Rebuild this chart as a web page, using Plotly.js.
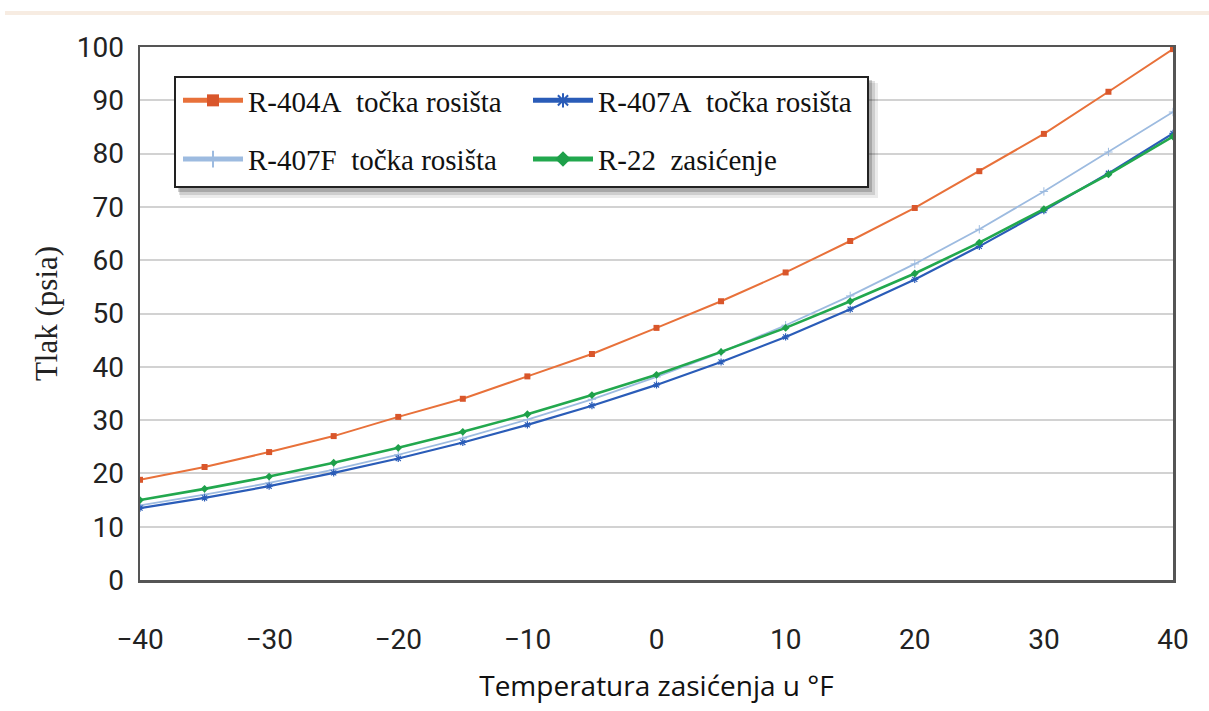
<!DOCTYPE html>
<html>
<head>
<meta charset="utf-8">
<script src="https://cdn.plot.ly/plotly-3.0.1.min.js"></script>
<style>
  html, body { margin: 0; padding: 0; background: #ffffff; }
  #chart { width: 1209px; height: 711px; }
</style>
</head>
<body>
<div id="chart"></div>
<script>
// Temperature (°F)
const temperatures = [-40, -35, -30, -25, -20, -15, -10, -5, 0, 5, 10, 15, 20, 25, 30, 35, 40];
// Pressure (psia)
const r404a = [18.8, 21.2, 24.0, 27.0, 30.6, 34.0, 38.2, 42.4, 47.3, 52.3, 57.7, 63.6, 69.8, 76.7, 83.7, 91.6, 99.6];
const r407a = [13.5, 15.4, 17.6, 20.1, 22.8, 25.8, 29.1, 32.7, 36.6, 40.9, 45.6, 50.8, 56.4, 62.6, 69.3, 76.3, 83.8];
const r407f = [14.0, 16.0, 18.2, 20.7, 23.5, 26.6, 30.1, 33.9, 38.1, 42.7, 47.8, 53.3, 59.3, 65.8, 72.9, 80.3, 87.8];
const r22   = [15.0, 17.1, 19.4, 22.0, 24.8, 27.8, 31.1, 34.7, 38.5, 42.8, 47.3, 52.3, 57.5, 63.3, 69.6, 76.1, 83.2];

const names = {
  r404a: 'R-404A\u00a0\u00a0točka rosišta',
  r407a: 'R-407A\u00a0\u00a0točka rosišta',
  r407f: 'R-407F\u00a0\u00a0točka rosišta',
  r22:   'R-22\u00a0\u00a0zasićenje'
};
const xTickVals = [-40, -30, -20, -10, 0, 10, 20, 30, 40];
const yTickVals = [0, 10, 20, 30, 40, 50, 60, 70, 80, 90, 100];

const traces = [
  { x: temperatures, y: r404a, name: names.r404a, mode: 'lines+markers', legend: 'legend', legendgroup: 'a',
    line: { color: '#e8713a', width: 2 }, marker: { symbol: 'square', size: 6, color: '#d9562b' } },
  { x: temperatures, y: r407f, name: names.r407f, mode: 'lines+markers', legend: 'legend', legendgroup: 'b',
    line: { color: '#9dbbe0', width: 1.8 }, marker: { symbol: 'cross-thin', size: 6, color: '#9dbbe0', line: { color: '#9dbbe0', width: 1 } } },
  { x: temperatures, y: r407a, name: names.r407a, mode: 'lines+markers', legend: 'legend2', legendgroup: 'c',
    line: { color: '#2a5cb8', width: 2.2 }, marker: { symbol: 'asterisk-open', size: 6, color: '#2a5cb8', line: { color: '#2a5cb8', width: 1.2 } } },
  { x: temperatures, y: r22, name: names.r22, mode: 'lines+markers', legend: 'legend2', legendgroup: 'd',
    line: { color: '#22a84e', width: 2.6 }, marker: { symbol: 'diamond', size: 6, color: '#1ea04a' } }
];

const plotL = 140, plotR = 1173, plotT = 47, plotB = 580;
const pw = plotR - plotL, ph = plotB - plotT;
const px = v => (v - plotL) / pw;
const py = v => (plotB - v) / ph;

const legendFont = { family: 'Liberation Serif, serif', size: 29, color: '#111111' };
const tickFont = { family: 'Roboto, sans-serif', size: 28, color: '#222222' };

const shapes = [
  // thin beige band at the very top of the page
  { type: 'rect', xref: 'paper', yref: 'paper', x0: px(5), x1: px(1209), y0: py(11), y1: py(15),
    fillcolor: '#f7ece2', line: { width: 0 }, layer: 'below' },
  // legend shadow (soft)
  { type: 'rect', xref: 'paper', yref: 'paper', x0: px(180), x1: px(878), y0: py(83), y1: py(198),
    fillcolor: 'rgba(0,0,0,0.08)', line: { width: 0 }, layer: 'above' },
  { type: 'rect', xref: 'paper', yref: 'paper', x0: px(179), x1: px(875), y0: py(81), y1: py(195),
    fillcolor: 'rgba(0,0,0,0.12)', line: { width: 0 }, layer: 'above' },
  { type: 'rect', xref: 'paper', yref: 'paper', x0: px(178), x1: px(872), y0: py(80), y1: py(192),
    fillcolor: 'rgba(0,0,0,0.18)', line: { width: 0 }, layer: 'above' },
  // legend box
  { type: 'rect', xref: 'paper', yref: 'paper', x0: px(175), x1: px(868), y0: py(77), y1: py(187),
    fillcolor: '#ffffff', line: { color: '#222222', width: 2 }, layer: 'above' }
];

const layout = {
  width: 1209, height: 711,
  margin: { l: plotL, r: 1209 - plotR, t: plotT, b: 711 - plotB },
  paper_bgcolor: '#ffffff', plot_bgcolor: '#ffffff',
  showlegend: true,
  legend: {
    x: px(178), y: py(75), xanchor: 'left', yanchor: 'top',
    bgcolor: 'rgba(0,0,0,0)', borderwidth: 0, font: legendFont,
    traceorder: 'grouped', tracegroupgap: 18, itemsizing: 'constant', itemwidth: 60
  },
  legend2: {
    x: px(528), y: py(75), xanchor: 'left', yanchor: 'top',
    bgcolor: 'rgba(0,0,0,0)', borderwidth: 0, font: legendFont,
    traceorder: 'grouped', tracegroupgap: 18, itemsizing: 'constant', itemwidth: 60
  },
  xaxis: {
    range: [-40, 40], tickvals: xTickVals, ticks: '', showgrid: false, zeroline: false,
    showline: true, mirror: true, linecolor: '#555555', linewidth: 2.5,
    tickfont: tickFont,
    ticklabelstandoff: 33,
    title: { text: 'Temperatura zasićenja u °F', standoff: 22,
      font: { family: 'Open Sans, Noto Sans, sans-serif', size: 28, color: '#111111' } }
  },
  yaxis: {
    range: [0, 100], tickvals: yTickVals, ticks: '', showgrid: true, gridcolor: '#d2d2d2', gridwidth: 2,
    zeroline: false, showline: true, mirror: true, linecolor: '#555555', linewidth: 2.5,
    tickfont: tickFont,
    ticklabelstandoff: 8,
    title: { text: 'Tlak (psia)', standoff: 10,
      font: { family: 'Liberation Serif, serif', size: 31, color: '#222222' } }
  },
  shapes: shapes
};

Plotly.newPlot('chart', traces, layout, { displayModeBar: false, staticPlot: true });
</script>
</body>
</html>
